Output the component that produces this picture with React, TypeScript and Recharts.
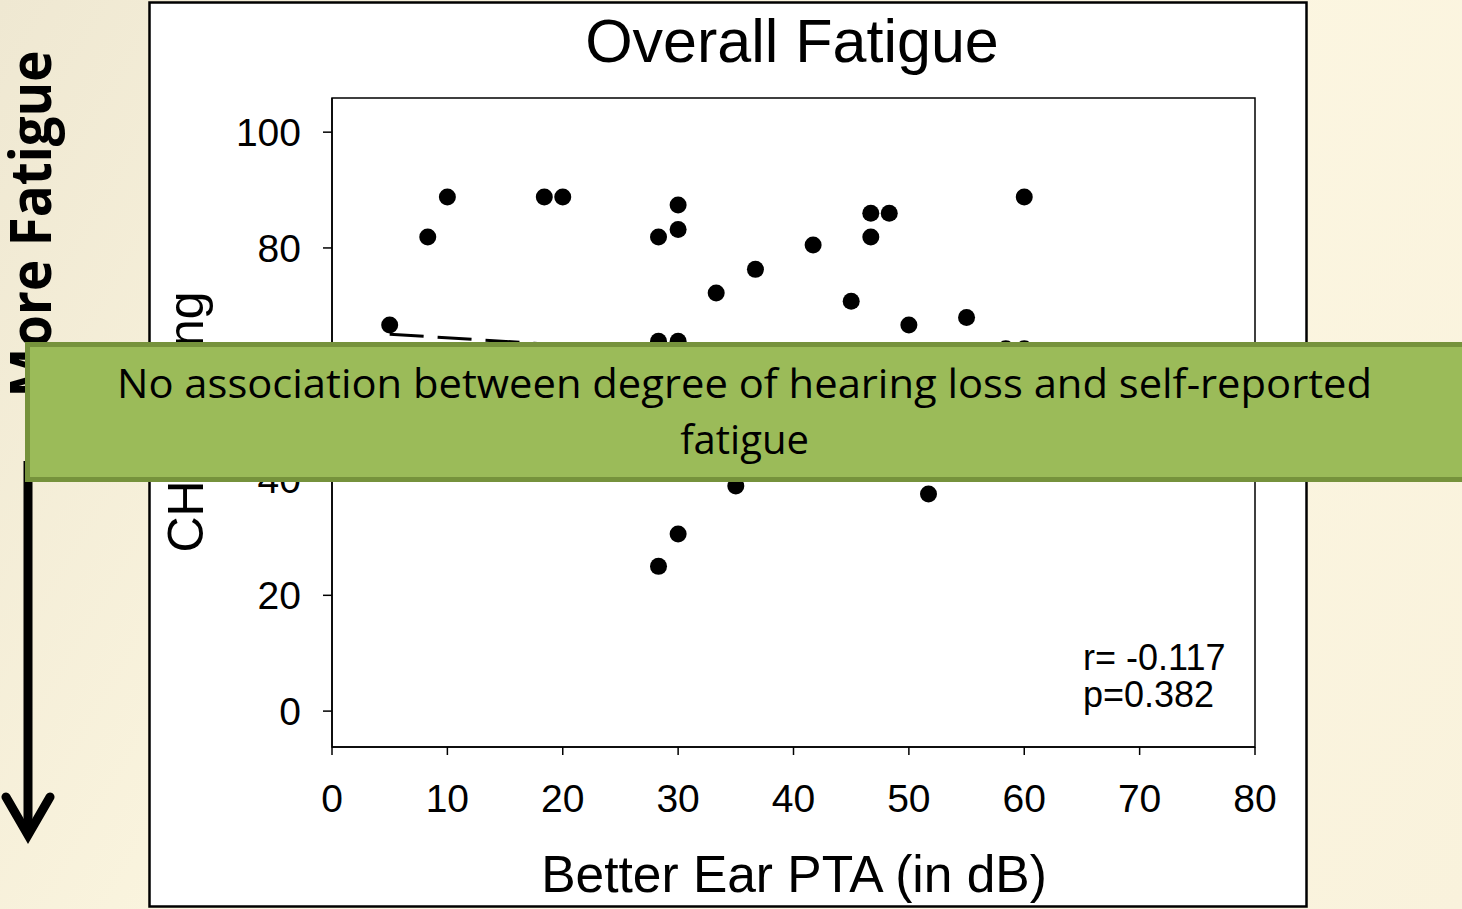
import React from 'react';
import { ScatterChart, Scatter, XAxis, YAxis, ReferenceArea } from 'recharts';

// better ear PTA (dB) and fatigue score
const pta = [5.0, 8.3, 10.0, 18.4, 20.0, 28.3, 30.0, 30.0, 33.3, 36.7, 41.7, 45.0, 46.7, 48.3, 46.7, 50.0, 55.0, 60.0, 28.3, 30.0, 58.4, 60.0, 35.0, 51.7, 30.0, 28.3];
const fatigue = [66.7, 81.9, 88.8, 88.8, 88.8, 81.9, 87.4, 83.2, 72.2, 76.3, 80.5, 70.8, 86.0, 86.0, 81.9, 66.7, 68.0, 88.8, 63.9, 63.9, 62.6, 62.6, 38.9, 37.5, 30.6, 25.0];

// dashed fit line end points
const trendX = [5, 60];
const trendY = [65.1, 58.3];

const xTicks = [0, 10, 20, 30, 40, 50, 60, 70, 80];
const yTicks = [0, 20, 40, 60, 80, 100];
const yDomain: [number, number] = [-6.2, 105.9];

const points = pta.map((x, i) => ({ x, y: fatigue[i] }));
const trend = trendX.map((x, i) => ({ x, y: trendY[i] }));

const axisFont = { fill: '#000', fontSize: 39, fontFamily: 'Liberation Sans, Arial, sans-serif' };
const labelFont = 'Liberation Sans, Arial, sans-serif';

const Dot = (props: any) => <circle cx={props.cx} cy={props.cy} r={8.5} fill="#000" />;

const App: React.FC = () => {
  return (
    <div
      style={{
        position: 'absolute',
        left: 0,
        top: 0,
        width: 1462,
        height: 909,
        overflow: 'hidden',
        background: 'linear-gradient(120deg, #EFE8D2 0%, #FAF4DE 35%, #FCF6E1 60%, #F9F2DC 100%)',
      }}
    >
      {/* slide frame behind the chart */}
      <svg width={1462} height={909} style={{ position: 'absolute', left: 0, top: 0 }}>
        <rect x={149.5} y={2.5} width={1157} height={904} fill="#fff" stroke="#000" strokeWidth={2.5} />
      </svg>

      <div style={{ position: 'absolute', left: 0, top: 0 }}>
        <ScatterChart width={1462} height={909} margin={{ top: 98, right: 207, bottom: 62, left: 232 }}>
          <XAxis
            type="number"
            dataKey="x"
            domain={[0, 80]}
            ticks={xTicks}
            height={100}
            tick={axisFont}
            tickSize={8}
            tickMargin={29}
            axisLine={{ stroke: '#000', strokeWidth: 1.5 }}
            tickLine={{ stroke: '#000', strokeWidth: 1.5 }}
            allowDataOverflow
          />
          <YAxis
            type="number"
            dataKey="y"
            domain={yDomain}
            ticks={yTicks}
            width={100}
            tick={axisFont}
            tickSize={9}
            tickMargin={22}
            axisLine={{ stroke: '#000', strokeWidth: 1.5 }}
            tickLine={{ stroke: '#000', strokeWidth: 1.5 }}
            allowDataOverflow
          />
          <ReferenceArea
            x1={0}
            x2={80}
            y1={yDomain[0]}
            y2={yDomain[1]}
            fill="none"
            stroke="#000"
            strokeWidth={1.5}
            ifOverflow="visible"
          />
          <Scatter
            data={trend}
            line={{ stroke: '#000', strokeWidth: 3, strokeDasharray: '34 14' }}
            shape={() => <g />}
            isAnimationActive={false}
          />
          <Scatter data={points} shape={Dot} isAnimationActive={false} />
        </ScatterChart>
      </div>

      {/* titles, annotation and the slide overlay */}
      <svg width={1462} height={909} style={{ position: 'absolute', left: 0, top: 0 }}>
        <text x={792} y={62} textAnchor="middle" fontFamily={labelFont} fontSize={61} fill="#000">
          Overall Fatigue
        </text>
        <text x={794} y={892} textAnchor="middle" fontFamily={labelFont} fontSize={51.5} fill="#000">
          Better Ear PTA (in dB)
        </text>
        <text
          x={203}
          y={422}
          textAnchor="middle"
          fontFamily={labelFont}
          fontSize={50}
          fill="#000"
          transform="rotate(-90 203 422)"
        >
          CHF Rating
        </text>
        <text x={1083} y={670} fontFamily={labelFont} fontSize={36} fill="#000">
          r= -0.117
        </text>
        <text x={1083} y={707} fontFamily={labelFont} fontSize={36} fill="#000">
          p=0.382
        </text>

        <text
          x={51}
          y={224}
          textAnchor="middle"
          fontFamily="Open Sans, sans-serif"
          fontWeight="bold"
          fontSize={58}
          fill="#000"
          textLength={347}
          lengthAdjust="spacingAndGlyphs"
          transform="rotate(-90 51 224)"
        >
          More Fatigue
        </text>
        <line x1={28} y1={461} x2={28} y2={832} stroke="#000" strokeWidth={9} />
        <polyline points="6,797 28,835 50,797" fill="none" stroke="#000" strokeWidth={9} strokeLinecap="round" strokeLinejoin="miter" />

        <rect x={27.5} y={344.5} width={1445} height={135} fill="#9BBB59" stroke="#76923C" strokeWidth={5} />
        <text
          x={744.5}
          y={398}
          textAnchor="middle"
          fontFamily="Open Sans, sans-serif"
          fontSize={40}
          fill="#000"
          textLength={1255}
          lengthAdjust="spacingAndGlyphs"
        >
          No association between degree of hearing loss and self-reported
        </text>
        <text x={744.5} y={454} textAnchor="middle" fontFamily="Open Sans, sans-serif" fontSize={40} fill="#000">
          fatigue
        </text>
      </svg>
    </div>
  );
};

export default App;
